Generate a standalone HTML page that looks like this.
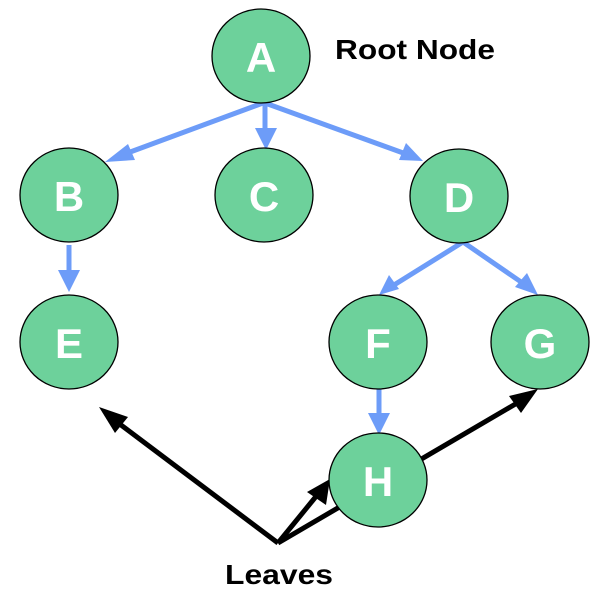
<!DOCTYPE html>
<html><head><meta charset="utf-8"><style>
html,body{margin:0;padding:0;background:#fff;}
svg{display:block;}
text{font-family:"Liberation Sans",sans-serif;font-weight:bold;}
</style></head><body>
<svg width="613" height="612" viewBox="0 0 613 612" xmlns="http://www.w3.org/2000/svg">
<g stroke="#6d9cf8" stroke-width="5" fill="none">
<line x1="263" y1="103" x2="122" y2="155"/>
<line x1="265" y1="103" x2="265" y2="132"/>
<line x1="265" y1="103" x2="406" y2="154"/>
<line x1="69" y1="245" x2="69" y2="275"/>
<line x1="463" y1="242" x2="394" y2="285"/>
<line x1="463" y1="242" x2="524" y2="284"/>
<line x1="379" y1="389" x2="379" y2="417"/>
</g>
<g fill="#6d9cf8">
<polygon points="105,162 128,144 135,160"/>
<polygon points="266,150 255,128 277,128"/>
<polygon points="423,161 399,160 406,143"/>
<polygon points="69,292 58,270 80,270"/>
<polygon points="379,295 389,275 399,289"/>
<polygon points="538,295 515,287 527,273"/>
<polygon points="379,435 368,413 390,413"/>
</g>
<g stroke="#000" stroke-width="5" fill="none">
<line x1="278" y1="543" x2="113" y2="419"/>
<line x1="278" y1="543" x2="318" y2="494"/>
<line x1="278" y1="543" x2="524" y2="399"/>
</g>
<g fill="#000">
<polygon points="99,407 128,417 115,433"/>
<polygon points="330,479 326,505 307,492"/>
<polygon points="538,389 521,413 509,396"/>
</g>
<g fill="#6dd19b" stroke="#000" stroke-width="1.3">
<ellipse cx="261" cy="56" rx="49" ry="47"/>
<ellipse cx="69" cy="195" rx="49" ry="47"/>
<ellipse cx="264" cy="195" rx="49" ry="47"/>
<ellipse cx="459" cy="196" rx="49" ry="47"/>
<ellipse cx="69" cy="342" rx="49" ry="47"/>
<ellipse cx="378" cy="342" rx="49" ry="47"/>
<ellipse cx="540" cy="342" rx="49" ry="47"/>
<ellipse cx="378" cy="480" rx="49" ry="47"/>
</g>
<g fill="#fff" font-size="42" text-anchor="middle">
<text x="261" y="72">A</text>
<text x="69" y="211">B</text>
<text x="264" y="211">C</text>
<text x="459" y="212">D</text>
<text x="69" y="358">E</text>
<text x="378" y="358">F</text>
<text x="540" y="358">G</text>
<text x="378" y="496">H</text>
</g>
<text x="335" y="59" font-size="28" fill="#000" textLength="160" lengthAdjust="spacingAndGlyphs">Root Node</text>
<text x="225" y="584" font-size="28" fill="#000" textLength="108" lengthAdjust="spacingAndGlyphs">Leaves</text>
</svg>
</body></html>
